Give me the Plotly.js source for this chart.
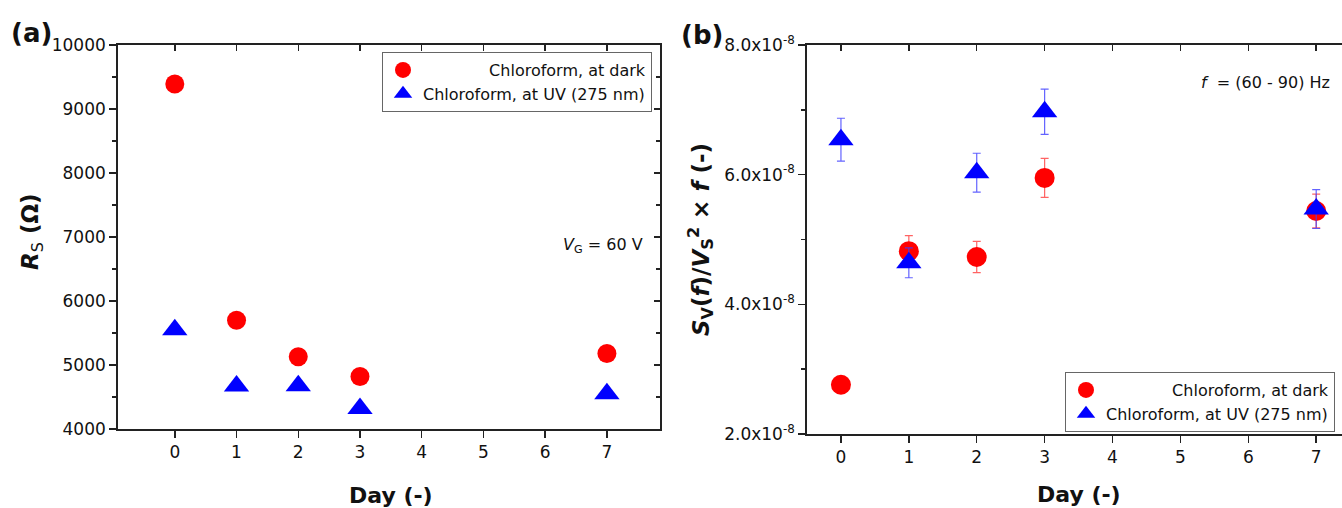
<!DOCTYPE html>
<html>
<head>
<meta charset="utf-8">
<script src="https://cdn.plot.ly/plotly-3.0.1.min.js"></script>
<style>html,body{margin:0;padding:0;background:#fff;}#chart{width:1342px;height:508px;}</style>
</head>
<body>
<div id="chart"></div>
<script>
// ---- data ----
const days = [0, 1, 2, 3, 7];
const dayTicks = [0, 1, 2, 3, 4, 5, 6, 7];
const rsDark = [9390, 5700, 5130, 4820, 5180];
const rsUV = [5550, 4670, 4675, 4320, 4550];
const noiseDark = [2.76e-8, 4.82e-8, 4.73e-8, 5.95e-8, 5.44e-8];
const noiseDarkErr = [0.06e-8, 0.24e-8, 0.24e-8, 0.30e-8, 0.26e-8];
const noiseUV = [6.54e-8, 4.64e-8, 6.03e-8, 6.97e-8, 5.47e-8];
const noiseUVErr = [0.33e-8, 0.23e-8, 0.30e-8, 0.35e-8, 0.30e-8];
const noiseTickVals = [2e-8, 4e-8, 6e-8, 8e-8];
const noiseTickText = ['2.0x10<sup>-8</sup>', '4.0x10<sup>-8</sup>', '6.0x10<sup>-8</sup>', '8.0x10<sup>-8</sup>'];
const nameDark = '\u00a0'.repeat(13) + 'Chloroform, at dark';
const nameUV = 'Chloroform, at UV (275 nm)';

const F = 'DejaVu Sans';
const ink = '#111';
const red = '#FF0000', blue = '#0000FF';

const traces = [
  {x: days, y: rsDark, type: 'scatter', mode: 'markers', name: nameDark, xaxis: 'x', yaxis: 'y', legend: 'legend',
   marker: {symbol: 'circle', size: 19, color: red}},
  {x: days, y: rsUV, type: 'scatter', mode: 'markers', name: nameUV, xaxis: 'x', yaxis: 'y', legend: 'legend',
   marker: {symbol: 'triangle-up', size: 22, color: blue}},
  {x: days, y: noiseDark, type: 'scatter', mode: 'markers', name: nameDark, xaxis: 'x2', yaxis: 'y2', legend: 'legend2',
   marker: {symbol: 'circle', size: 20, color: red},
   error_y: {type: 'data', array: noiseDarkErr, visible: true, color: 'rgba(255,60,60,0.8)', thickness: 1.2, width: 4}},
  {x: days, y: noiseUV, type: 'scatter', mode: 'markers', name: nameUV, xaxis: 'x2', yaxis: 'y2', legend: 'legend2',
   marker: {symbol: 'triangle-up', size: 22, color: blue},
   error_y: {type: 'data', array: noiseUVErr, visible: true, color: 'rgba(60,60,255,0.8)', thickness: 1.2, width: 4}},
  // helpers so the inward-tick overlay axes are drawn
  {x: [null], y: [null], xaxis: 'x3', yaxis: 'y', showlegend: false, hoverinfo: 'skip', mode: 'markers'},
  {x: [null], y: [null], xaxis: 'x', yaxis: 'y3', showlegend: false, hoverinfo: 'skip', mode: 'markers'},
  {x: [null], y: [null], xaxis: 'x4', yaxis: 'y2', showlegend: false, hoverinfo: 'skip', mode: 'markers'}
];

const W = 1342, H = 508;
const px = v => v / W;
const py = v => (H - v) / H;

const axLine = {showline: true, linecolor: '#222', linewidth: 1.8, showgrid: false, zeroline: false,
  tickcolor: '#222', tickwidth: 1.5, tickfont: {family: F, size: 17, color: ink}};

const xRangeA = [-0.92, 7.86];
const xRangeB = [-0.5, 7.38];

const layout = {
  width: W, height: H,
  margin: {l: 0, r: 0, t: 0, b: 0},
  paper_bgcolor: '#fff', plot_bgcolor: '#fff',
  font: {family: F, size: 16, color: ink},
  xaxis: Object.assign({}, axLine, {domain: [px(118), px(660)], range: xRangeA, anchor: 'y',
    tickmode: 'array', tickvals: dayTicks, ticks: 'outside', ticklen: 7, mirror: true}),
  yaxis: Object.assign({}, axLine, {domain: [py(429), py(45)], range: [4000, 10000], anchor: 'x',
    dtick: 1000, tick0: 0, tickformat: 'd', ticks: 'outside', ticklen: 7, mirror: true,
    minor: {dtick: 500, tick0: 0, ticks: 'outside', ticklen: 4, tickcolor: '#222', tickwidth: 1.5, showgrid: false}}),
  xaxis3: {overlaying: 'x', anchor: 'y', side: 'top', range: xRangeA, tickmode: 'array', tickvals: dayTicks,
    ticks: 'inside', ticklen: 6, tickcolor: '#222', tickwidth: 1.5, showticklabels: false, showline: false,
    showgrid: false, zeroline: false},
  yaxis3: {overlaying: 'y', anchor: 'x', side: 'right', range: [4000, 10000], dtick: 1000, tick0: 0,
    ticks: 'inside', ticklen: 6, tickcolor: '#222', tickwidth: 1.5, showticklabels: false, showline: false,
    showgrid: false, zeroline: false,
    minor: {dtick: 500, tick0: 0, ticks: 'inside', ticklen: 4, tickcolor: '#222', tickwidth: 1.5, showgrid: false}},
  xaxis2: Object.assign({}, axLine, {domain: [px(807), 1], range: xRangeB, anchor: 'y2',
    tickmode: 'array', tickvals: dayTicks, ticks: 'outside', ticklen: 7, mirror: true}),
  yaxis2: Object.assign({}, axLine, {domain: [py(434), py(45)], range: [2e-8, 8e-8], anchor: 'x2',
    tickmode: 'array', tickvals: noiseTickVals, ticktext: noiseTickText, ticks: 'outside', ticklen: 7, mirror: false,
    minor: {dtick: 1e-8, tick0: 0, ticks: 'outside', ticklen: 4, tickcolor: '#222', tickwidth: 1.5, showgrid: false}}),
  xaxis4: {overlaying: 'x2', anchor: 'y2', side: 'top', range: xRangeB, tickmode: 'array', tickvals: dayTicks,
    ticks: 'inside', ticklen: 6, tickcolor: '#222', tickwidth: 1.5, showticklabels: false, showline: false,
    showgrid: false, zeroline: false},
  legend: {x: px(382), y: py(52), xanchor: 'left', yanchor: 'top', bgcolor: '#fff', bordercolor: '#666', borderwidth: 1,
    font: {family: F, size: 16, color: ink}, itemsizing: 'trace', tracegroupgap: 0},
  legend2: {x: px(1065), y: py(372), xanchor: 'left', yanchor: 'top', bgcolor: '#fff', bordercolor: '#666', borderwidth: 1,
    font: {family: F, size: 16, color: ink}, itemsizing: 'trace', tracegroupgap: 0},
  annotations: [
    {text: '<b>(a)</b>', xref: 'paper', yref: 'paper', x: px(9), y: py(33), xanchor: 'left', yanchor: 'middle',
     showarrow: false, font: {family: F, size: 26, color: ink}},
    {text: '<b>(b)</b>', xref: 'paper', yref: 'paper', x: px(679), y: py(35), xanchor: 'left', yanchor: 'middle',
     showarrow: false, font: {family: F, size: 26, color: ink}},
    {text: '<b><i>R</i></b><sub>S</sub><b> (Ω)</b>', xref: 'paper', yref: 'paper', x: px(32), y: py(232),
     xanchor: 'center', yanchor: 'middle', textangle: -90, showarrow: false, font: {family: F, size: 23, color: ink}},
    {text: '<b><i>S</i><sub>V</sub>(<i>f</i>)/<i>V</i><sub>S</sub><sup>2</sup> × <i>f</i> (-)</b>', xref: 'paper', yref: 'paper',
     x: px(700), y: py(240), xanchor: 'center', yanchor: 'middle', textangle: -90, showarrow: false,
     font: {family: F, size: 23, color: ink}},
    {text: '<b>Day (-)</b>', xref: 'paper', yref: 'paper', x: px(391), y: py(495), xanchor: 'center', yanchor: 'middle',
     showarrow: false, font: {family: F, size: 22, color: ink}},
    {text: '<b>Day (-)</b>', xref: 'paper', yref: 'paper', x: px(1079), y: py(494), xanchor: 'center', yanchor: 'middle',
     showarrow: false, font: {family: F, size: 22, color: ink}},
    {text: '<i>V</i><sub>G</sub> = 60 V', xref: 'paper', yref: 'paper', x: px(561), y: py(245), xanchor: 'left', yanchor: 'middle',
     showarrow: false, font: {family: F, size: 16, color: ink}},
    {text: '<i>f</i>  = (60 - 90) Hz', xref: 'paper', yref: 'paper', x: px(1332), y: py(82), xanchor: 'right', yanchor: 'middle',
     showarrow: false, font: {family: F, size: 16, color: ink}}
  ],
  showlegend: true
};

Plotly.newPlot('chart', traces, layout, {staticPlot: true, displayModeBar: false});
</script>
</body>
</html>
